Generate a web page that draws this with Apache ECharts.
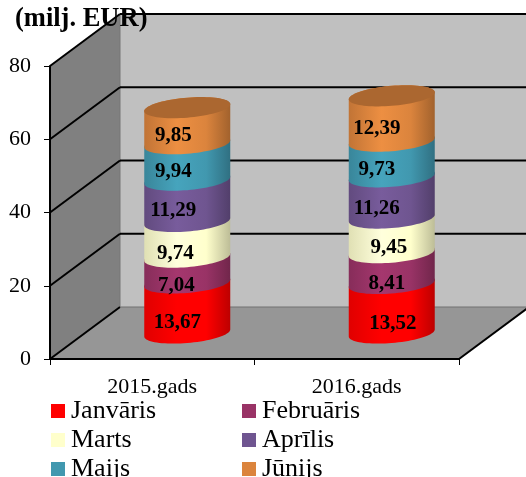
<!DOCTYPE html>
<html>
<head>
<meta charset="utf-8">
<style>
  html, body { margin: 0; padding: 0; background: #fff; overflow: hidden; }
  #chart { width: 526px; height: 477px; }
</style>
<script src="https://cdn.jsdelivr.net/npm/echarts@6/dist/echarts.min.js"></script>
</head>
<body>
<div id="chart"></div>
<script>
// data
const years = ['2015.gads', '2016.gads'];
const months = ['Janvāris', 'Februāris', 'Marts', 'Aprīlis', 'Maijs', 'Jūnijs'];
const janValues = [13.67, 13.52];
const febValues = [7.04, 8.41];
const marValues = [9.74, 9.45];
const aprValues = [11.29, 11.26];
const maiValues = [9.94, 9.73];
const junValues = [9.85, 12.39];
const yTicks = [0, 20, 40, 60, 80];

const monthValues = [janValues, febValues, marValues, aprValues, maiValues, junValues];
const colors = ['#ff0000', '#993366', '#ffffcc', '#6f5590', '#4198af', '#db843d'];

// label nudges from the middle of each segment, [month][year]
const labelDx = [[-10, 1], [-11, -5], [-12, -3], [-14, -15], [-14, -15], [-14, -15]];
const labelDy = [[15, 15], [16, 15], [14, 12], [10, 11], [10, 11], [10, 10]];

// fake 3d box
const depthX = 70;
const depthY = 52;
const barRx = 43;
const barRy = 10;
const barShear = 3.5;
const font = '"Liberation Serif", "Times New Roman", serif';

function shade(hex, f) {
  const n = parseInt(hex.slice(1), 16);
  const c = [n >> 16, (n >> 8) & 255, n & 255].map(v => Math.min(255, Math.round(v * f)));
  return 'rgb(' + c.join(',') + ')';
}

function sideFill(hex) {
  return {
    type: 'linear', x: 0, y: 0, x2: 1, y2: 0,
    colorStops: [
      { offset: 0, color: shade(hex, 0.88) },
      { offset: 0.38, color: shade(hex, 1.08) },
      { offset: 0.72, color: shade(hex, 1.0) },
      { offset: 1, color: shade(hex, 0.74) }
    ]
  };
}

// point on the tilted ring of the cylinder
function ring(cx, cy, t) {
  return [cx + barRx * Math.cos(t), cy + barRy * Math.sin(t) - barShear * Math.cos(t)];
}

function renderBackdrop(params, api) {
  const lo = api.coord([0, 0]);
  const hi = api.coord([1, yTicks[yTicks.length - 1]]);
  const left = lo[0] - (api.size([1, 0])[0] / 2);
  const right = hi[0] + (api.size([1, 0])[0] / 2);
  const bottom = lo[1];
  const top = hi[1];
  const children = [
    { type: 'polygon', shape: { points: [[left + depthX, top - depthY], [right + depthX, top - depthY], [right + depthX, bottom - depthY], [left + depthX, bottom - depthY]] }, style: { fill: '#c0c0c0' } },
    { type: 'polygon', shape: { points: [[left, bottom], [left + depthX, bottom - depthY], [left + depthX, top - depthY], [left, top]] }, style: { fill: '#808080' } },
    { type: 'polygon', shape: { points: [[left, bottom], [right, bottom], [right + depthX, bottom - depthY], [left + depthX, bottom - depthY]] }, style: { fill: '#969696' } },
    { type: 'line', shape: { x1: left + depthX, y1: top - depthY, x2: left + depthX, y2: bottom - depthY }, style: { stroke: '#777', lineWidth: 1 } },
    { type: 'line', shape: { x1: right, y1: bottom, x2: right + depthX, y2: bottom - depthY }, style: { stroke: '#000', lineWidth: 2 } }
  ];
  yTicks.forEach(v => {
    const y = api.coord([0, v])[1];
    children.push({ type: 'line', shape: { x1: left, y1: y, x2: left + depthX, y2: y - depthY }, style: { stroke: '#000', lineWidth: 2 } });
    children.push({ type: 'line', shape: { x1: left + depthX, y1: y - depthY, x2: right + depthX, y2: y - depthY }, style: { stroke: v === 0 ? '#707070' : '#000', lineWidth: v === 0 ? 1 : 2 } });
  });
  return { type: 'group', children };
}

function makeRender(m) {
  return function (params, api) {
    const cat = api.value(0);
    const start = api.coord([cat, api.value(1)]);
    const end = api.coord([cat, api.value(2)]);
    const cx = start[0] + depthX / 2;
    const y0 = start[1] - depthY / 2;
    const y1 = end[1] - depthY / 2;
    const pts = [];
    for (let i = 0; i <= 40; i++) pts.push(ring(cx, y0, Math.PI * i / 40));
    for (let i = 0; i <= 40; i++) pts.push(ring(cx, y1, Math.PI + Math.PI * i / 40));
    const children = [{ type: 'polygon', z2: 1, shape: { points: pts }, style: { fill: sideFill(colors[m]) } }];
    if (m === months.length - 1) {
      const cap = [];
      for (let i = 0; i < 80; i++) cap.push(ring(cx, y1, Math.PI * 2 * i / 80));
      children.push({ type: 'polygon', z2: 2, shape: { points: cap }, style: { fill: shade(colors[m], 0.78) } });
    }
    children.push({
      type: 'text',
      z2: 10,
      x: cx + labelDx[m][cat],
      y: (y0 + y1) / 2 + labelDy[m][cat],
      style: {
        text: api.value(3).toFixed(2).replace('.', ','),
        fill: '#000',
        font: 'bold 21px ' + font,
        align: 'center',
        verticalAlign: 'middle'
      }
    });
    return { type: 'group', children };
  };
}

const series = [{
  type: 'custom',
  name: 'fons',
  z: -1,
  silent: true,
  data: [[0, 0]],
  renderItem: renderBackdrop
}];

const running = years.map(() => 0);
months.forEach((name, m) => {
  series.push({
    type: 'custom',
    name,
    itemStyle: { color: colors[m] },
    renderItem: makeRender(m),
    data: years.map((y, c) => {
      const from = running[c];
      running[c] += monthValues[m][c];
      return [c, from, running[c], monthValues[m][c]];
    })
  });
});

function legendColumn(left, picks) {
  return {
    orient: 'vertical',
    left,
    top: 398,
    height: 120,
    padding: 0,
    itemWidth: 14,
    itemHeight: 14,
    itemGap: 3,
    icon: 'rect',
    textStyle: { fontFamily: font, fontSize: 26, color: '#000', padding: [0, 0, 0, 1] },
    data: picks.map(i => ({ name: months[i], itemStyle: { color: colors[i] } }))
  };
}

const chart = echarts.init(document.getElementById('chart'), null, { renderer: 'canvas' });
chart.setOption({
  animation: false,
  backgroundColor: '#fff',
  title: {
    text: '(milj. EUR)',
    left: 15,
    top: 6,
    padding: 0,
    textStyle: { fontFamily: font, fontSize: 26.5, fontWeight: 'bold', color: '#000' }
  },
  legend: [legendColumn(51, [0, 2, 4]), legendColumn(242, [1, 3, 5])],
  grid: { left: 50, right: 67, top: 66, bottom: 118 },
  xAxis: {
    type: 'category',
    data: years,
    axisLine: { lineStyle: { color: '#000', width: 2 } },
    axisTick: { show: true, length: 6, lineStyle: { color: '#000', width: 1 } },
    axisLabel: { fontFamily: font, fontSize: 22, color: '#000', margin: 17 }
  },
  yAxis: {
    type: 'value',
    min: 0,
    max: 80,
    interval: 20,
    splitLine: { show: false },
    axisLine: { show: true, lineStyle: { color: '#000', width: 2 } },
    axisTick: { show: true, length: 6, lineStyle: { color: '#000', width: 1 } },
    axisLabel: { fontFamily: font, fontSize: 22, color: '#000', margin: 19 }
  },
  series
});
</script>
</body>
</html>
